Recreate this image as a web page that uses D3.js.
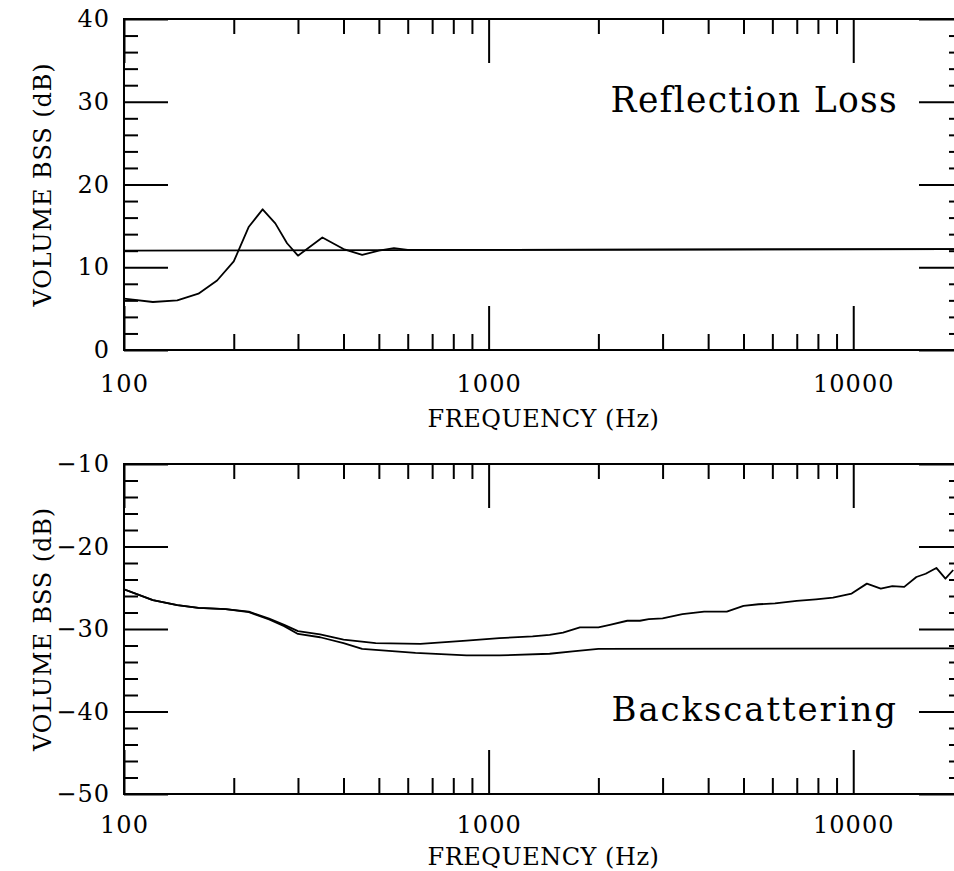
<!DOCTYPE html>
<html>
<head>
<meta charset="utf-8">
<script src="https://cdn.jsdelivr.net/npm/d3@7"></script>
<style>
  body { margin: 0; background: #fff; }
  svg { display: block; }
</style>
</head>
<body>
<div id="chart"></div>
<script>
// top panel: reflection loss
const rlFreq = [100, 120, 140, 160, 180, 200, 220, 240, 260, 280, 300, 350, 400, 450, 500, 550, 600, 700, 800, 1000, 20000]
const rlVal = [6.2, 5.8, 6.0, 6.8, 8.4, 10.7, 14.9, 17.0, 15.3, 12.9, 11.4, 13.6, 12.2, 11.5, 12.0, 12.3, 12.1, 12.1, 12.1, 12.1, 12.2]
const rlRefFreq = [100, 20000]
const rlRefVal = [12.0, 12.2]

// bottom panel: backscattering
const bsUpperFreq = [100, 120, 140, 160, 190, 220, 250, 275, 300, 345, 400, 490, 650, 870, 1070, 1320, 1470, 1600, 1780, 2000, 2150, 2400, 2600, 2750, 3000, 3400, 3900, 4500, 5000, 5500, 6100, 7000, 7900, 8800, 9900, 10900, 11900, 12800, 13800, 14900, 15800, 16900, 17900, 18800]
const bsUpperVal = [-25.2, -26.5, -27.1, -27.45, -27.6, -27.9, -28.75, -29.5, -30.25, -30.65, -31.3, -31.7, -31.8, -31.4, -31.1, -30.9, -30.7, -30.45, -29.8, -29.8, -29.5, -29.0, -29.0, -28.8, -28.7, -28.2, -27.9, -27.9, -27.2, -27.0, -26.9, -26.6, -26.4, -26.2, -25.7, -24.5, -25.1, -24.8, -24.9, -23.7, -23.3, -22.6, -23.9, -22.85]
const bsLowerFreq = [100, 120, 140, 160, 190, 220, 250, 275, 300, 345, 400, 450, 630, 870, 1070, 1470, 1700, 2000, 20000]
const bsLowerVal = [-25.2, -26.5, -27.1, -27.45, -27.6, -27.95, -28.85, -29.65, -30.6, -31.0, -31.7, -32.4, -32.9, -33.2, -33.2, -33.0, -32.7, -32.4, -32.35]

const xDomain = [100, 20000]
const xMajor = [100, 1000, 10000]
const xMinor = [200, 300, 400, 500, 600, 700, 800, 900, 2000, 3000, 4000, 5000, 6000, 7000, 8000, 9000]

const width = 954
const height = 871
const left = 124
const right = 963
const font = '"DejaVu Serif", serif'

const svg = d3.select('#chart')
    .append('svg')
    .attr('width', width)
    .attr('height', height)

const panels = [
    {
        top: 19, bottom: 350, yDomain: [0, 40], yStep: 2, yMajor: [0, 10, 20, 30, 40],
        series: [[rlFreq, rlVal], [rlRefFreq, rlRefVal]],
        title: 'Reflection Loss', titleVal: 30, titleSize: 34.5, titleSpacing: 1.3, titleShift: 10,
        tickPad: 25, xTitleShift: 77
    },
    {
        top: 464, bottom: 794, yDomain: [-50, -10], yStep: 2, yMajor: [-50, -40, -30, -20, -10],
        series: [[bsUpperFreq, bsUpperVal], [bsLowerFreq, bsLowerVal]],
        title: 'Backscattering', titleVal: -40, titleSize: 34, titleSpacing: 1.9, titleShift: 9,
        tickPad: 22, xTitleShift: 71
    }
]

panels.forEach((p, i) => {
    const x = d3.scaleLog().domain(xDomain).range([left, right])
    const y = d3.scaleLinear().domain(p.yDomain).range([p.bottom, p.top])
    const h = p.bottom - p.top
    const w = right - left

    const yMinor = d3.range(p.yDomain[0], p.yDomain[1] + 0.001, p.yStep).filter((v) => !p.yMajor.includes(v))

    const g = svg.append('g')

    svg.append('clipPath').attr('id', 'clip' + i)
        .append('rect').attr('x', left).attr('y', p.top).attr('width', w).attr('height', h)

    // curves
    const line = d3.line().x((d) => x(d[0])).y((d) => y(d[1]))
    p.series.forEach(([fs, vs]) => {
        g.append('path')
            .datum(fs.map((f, k) => [f, vs[k]]))
            .attr('clip-path', `url(#clip${i})`)
            .attr('fill', 'none')
            .attr('stroke', '#000')
            .attr('stroke-width', 1.8)
            .attr('stroke-linejoin', 'round')
            .attr('d', line)
    })

    const addAxis = (axis, transform, labels) => {
        const a = g.append('g').attr('transform', transform).call(axis)
        a.select('.domain').remove()
        a.selectAll('line').attr('stroke', '#000').attr('stroke-width', 2)
        if (!labels) a.selectAll('text').remove()
        else a.selectAll('text')
            .attr('font-family', font)
            .attr('font-size', 24)
            .attr('letter-spacing', 1)
            .attr('fill', '#000')
        return a
    }

    // x axes: bottom with labels, top mirrored
    addAxis(d3.axisBottom(x).tickValues(xMajor).tickFormat(d3.format('d')).tickSizeInner(-44).tickSizeOuter(0).tickPadding(p.tickPad),
        `translate(0,${p.bottom})`, true)
    addAxis(d3.axisBottom(x).tickValues(xMinor).tickSizeInner(-16).tickSizeOuter(0),
        `translate(0,${p.bottom})`, false)
    addAxis(d3.axisTop(x).tickValues(xMajor).tickSizeInner(-44).tickSizeOuter(0),
        `translate(0,${p.top})`, false)
    addAxis(d3.axisTop(x).tickValues(xMinor).tickSizeInner(-15).tickSizeOuter(0),
        `translate(0,${p.top})`, false)

    // y axes
    addAxis(d3.axisLeft(y).tickValues(p.yMajor).tickFormat(d3.format('d')).tickSizeInner(-44).tickSizeOuter(0).tickPadding(14),
        `translate(${left},0)`, true)
    addAxis(d3.axisLeft(y).tickValues(yMinor).tickSizeInner(-14).tickSizeOuter(0),
        `translate(${left},0)`, false)
    addAxis(d3.axisRight(y).tickValues(p.yMajor).tickSizeInner(-44).tickSizeOuter(0),
        `translate(${right},0)`, false)
    addAxis(d3.axisRight(y).tickValues(yMinor).tickSizeInner(-14).tickSizeOuter(0),
        `translate(${right},0)`, false)

    // frame
    g.append('rect')
        .attr('x', left).attr('y', p.top).attr('width', w).attr('height', h)
        .attr('fill', 'none').attr('stroke', '#000').attr('stroke-width', 2)

    // axis titles
    g.append('text')
        .attr('x', (left + right) / 2)
        .attr('y', p.bottom + p.xTitleShift)
        .attr('text-anchor', 'middle')
        .attr('font-family', font)
        .attr('font-size', 24)
        .attr('letter-spacing', 0.5)
        .text('FREQUENCY (Hz)')

    g.append('text')
        .attr('transform', `translate(51,${(p.top + p.bottom) / 2}) rotate(-90)`)
        .attr('text-anchor', 'middle')
        .attr('font-family', font)
        .attr('font-size', 24)
        .attr('letter-spacing', 0.9)
        .text('VOLUME BSS (dB)')

    // panel label
    g.append('text')
        .attr('x', 898)
        .attr('y', y(p.titleVal) + p.titleShift)
        .attr('text-anchor', 'end')
        .attr('font-family', font)
        .attr('font-size', p.titleSize)
        .attr('letter-spacing', p.titleSpacing)
        .text(p.title)
})
</script>
</body>
</html>
